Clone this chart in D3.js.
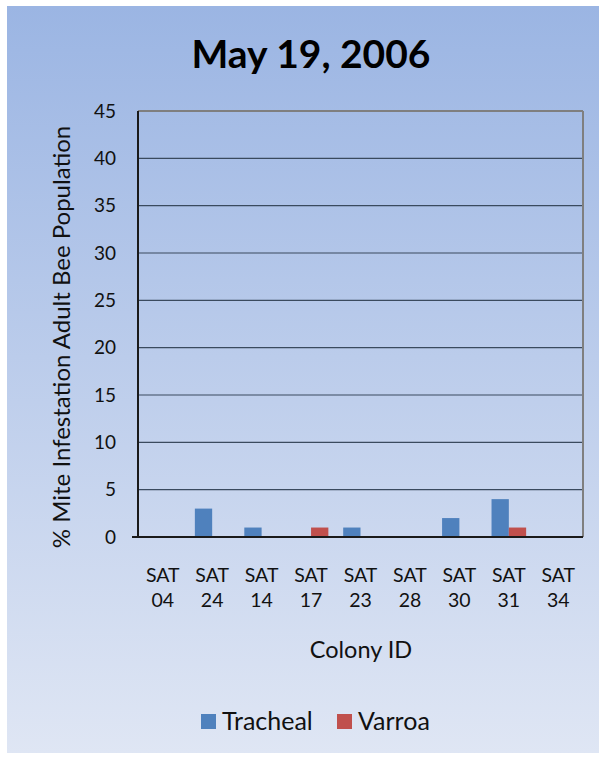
<!DOCTYPE html>
<html>
<head>
<meta charset="utf-8">
<script src="https://cdn.jsdelivr.net/npm/d3@7"></script>
<style>
  html, body { margin: 0; padding: 0; background: #ffffff; }
  svg { display: block; font-family: Lato, "Open Sans", sans-serif; }
</style>
</head>
<body>
<svg id="chart" width="606" height="759"></svg>
<script>
// Mite infestation by colony, sampled May 19, 2006
const colonies = ["SAT 04", "SAT 24", "SAT 14", "SAT 17", "SAT 23", "SAT 28", "SAT 30", "SAT 31", "SAT 34"];
const tracheal = [0, 3, 1, 0, 1, 0, 2, 4, 0];
const varroa   = [0, 0, 0, 1, 0, 0, 0, 1, 0];
const seriesNames = ["Tracheal", "Varroa"];
const seriesColors = ["#4f81bd", "#c0504d"];
const yTicks = [0, 5, 10, 15, 20, 25, 30, 35, 40, 45];

const svg = d3.select("#chart");

// Chart-area background with vertical gradient
const defs = svg.append("defs");
const grad = defs.append("linearGradient").attr("id", "bg").attr("x1", 0).attr("y1", 0).attr("x2", 0).attr("y2", 1);
grad.append("stop").attr("offset", "0%").attr("stop-color", "#9bb5e3");
grad.append("stop").attr("offset", "100%").attr("stop-color", "#dfe6f4");
svg.append("rect").attr("x", 7).attr("y", 6).attr("width", 592).attr("height", 747).attr("fill", "url(#bg)");

const plot = { left: 138, top: 111, right: 583, bottom: 537 };

const x0 = d3.scaleBand().domain(colonies).range([plot.left, plot.right]).paddingInner(0.3).paddingOuter(0.15);
const x1 = d3.scaleBand().domain(seriesNames).range([0, x0.bandwidth()]).padding(0);
const y = d3.scaleLinear().domain([0, 45]).range([plot.bottom, plot.top]);

// Gridlines
svg.append("g").selectAll("line").data(yTicks.filter(t => t > 0 && t < 45)).join("line")
  .attr("x1", plot.left).attr("x2", plot.right)
  .attr("y1", d => y(d)).attr("y2", d => y(d))
  .attr("stroke", "#3a4a5e").attr("stroke-width", 1.2);

// Plot frame: gray top/right, dark left/bottom
svg.append("line").attr("x1", plot.left).attr("x2", plot.right).attr("y1", y(45)).attr("y2", y(45))
  .attr("stroke", "#7f7f7f").attr("stroke-width", 2);
svg.append("line").attr("x1", plot.right).attr("x2", plot.right).attr("y1", plot.top).attr("y2", plot.bottom)
  .attr("stroke", "#7f7f7f").attr("stroke-width", 2);

// Bars
const rows = colonies.map((c, i) => ({ colony: c, values: [tracheal[i], varroa[i]] }));
svg.append("g").selectAll("g").data(rows).join("g")
  .attr("transform", d => `translate(${x0(d.colony)},0)`)
  .selectAll("rect").data(d => d.values.map((v, j) => ({ v, name: seriesNames[j], color: seriesColors[j] })))
  .join("rect")
  .attr("x", d => x1(d.name))
  .attr("width", x1.bandwidth())
  .attr("y", d => y(d.v))
  .attr("height", d => y(0) - y(d.v))
  .attr("fill", d => d.color);

// Axes lines
svg.append("line").attr("x1", plot.left).attr("x2", plot.left).attr("y1", plot.top).attr("y2", plot.bottom)
  .attr("stroke", "#1a1a1a").attr("stroke-width", 2);
svg.append("line").attr("x1", plot.left - 6).attr("x2", plot.right).attr("y1", plot.bottom).attr("y2", plot.bottom)
  .attr("stroke", "#1a1a1a").attr("stroke-width", 2);

// Y tick labels
svg.append("g").selectAll("text").data(yTicks).join("text")
  .attr("x", 116).attr("y", d => y(d)).attr("dy", "0.35em")
  .attr("text-anchor", "end").attr("font-size", 19).attr("fill", "#111")
  .text(d => d);

// X tick labels (two lines)
const xl = svg.append("g").selectAll("text").data(colonies).join("text")
  .attr("text-anchor", "middle").attr("font-size", 19.5).attr("fill", "#111")
  .attr("x", d => x0(d) + x0.bandwidth() / 2);
xl.append("tspan").attr("x", d => x0(d) + x0.bandwidth() / 2).attr("y", 582).text(d => d.split(" ")[0]);
xl.append("tspan").attr("x", d => x0(d) + x0.bandwidth() / 2).attr("y", 607).text(d => d.split(" ")[1]);

// Axis titles
svg.append("text").attr("x", 361).attr("y", 658).attr("text-anchor", "middle")
  .attr("font-size", 23.5).attr("fill", "#111").text("Colony ID");
svg.append("text").attr("transform", "translate(70,337) rotate(-90)").attr("text-anchor", "middle")
  .attr("font-size", 24).attr("fill", "#111").text("% Mite Infestation Adult Bee Population");

// Title
svg.append("text").attr("x", 311).attr("y", 68).attr("text-anchor", "middle")
  .attr("font-size", 39).attr("font-weight", "bold").attr("fill", "#000").text("May 19, 2006");

// Legend
const legendX = [201, 337];
const lg = svg.append("g").selectAll("g").data(seriesNames).join("g")
  .attr("transform", (d, i) => `translate(${legendX[i]},714)`);
lg.append("rect").attr("width", 15).attr("height", 15).attr("fill", (d, i) => seriesColors[i]);
lg.append("text").attr("x", 21).attr("y", 16).attr("font-size", 25).attr("fill", "#111").text(d => d);
</script>
</body>
</html>
